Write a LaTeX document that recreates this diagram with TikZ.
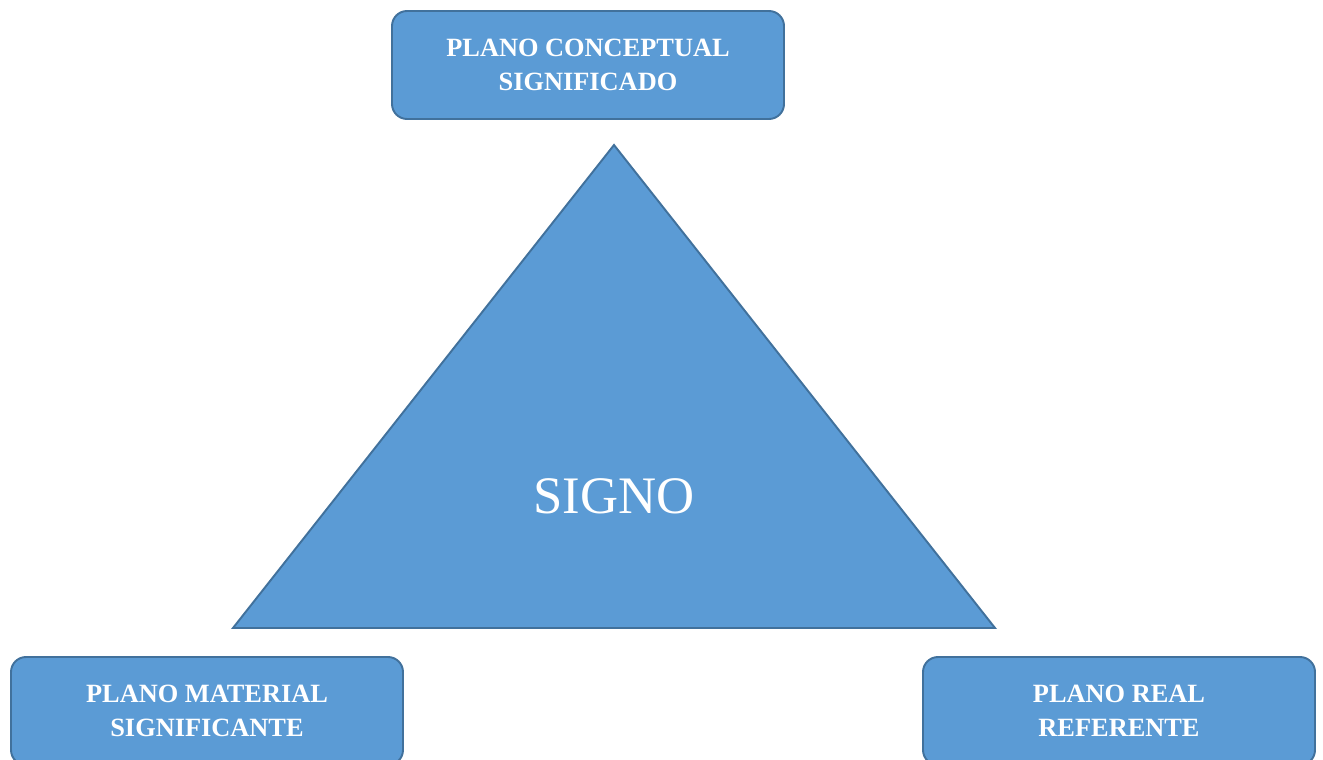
\documentclass[tikz,border=0pt]{standalone}
\usepackage{fontspec}
\setmainfont{Liberation Serif}
\usetikzlibrary{positioning}
\definecolor{fillblue}{HTML}{5B9BD5}
\definecolor{lineblue}{HTML}{41719C}
\tikzset{
 plano/.style={rectangle,rounded corners=15*0.02cm,draw=lineblue,fill=fillblue,line width=1.1pt,
  minimum width=392*0.02cm,minimum height=108*0.02cm,align=center,text=white,
  font=\bfseries\fontsize{15}{19.3}\selectfont}
}
\begin{document}
\begin{tikzpicture}[x=0.02cm,y=-0.02cm]
\useasboundingbox (0,0) rectangle (1323,760);
\clip (0,0) rectangle (1323,760);
% triangle
\coordinate (top) at (614,145);
\coordinate (left) at (233,628);
\coordinate (right) at (995,628);
\draw[draw=lineblue,fill=fillblue,line width=1.1pt] (top) -- (left) -- (right) -- cycle;
\node[text=white,font=\fontsize{30}{36}\selectfont] (signo) at (614,496) {SIGNO};
% planes
\node[plano] (conceptual) at (588,65) {PLANO CONCEPTUAL\\SIGNIFICADO};
\node[plano] (material) at (207,711) {PLANO MATERIAL\\SIGNIFICANTE};
\node[plano] (real) at (1119,711) {PLANO REAL\\REFERENTE};
\end{tikzpicture}
\end{document}
